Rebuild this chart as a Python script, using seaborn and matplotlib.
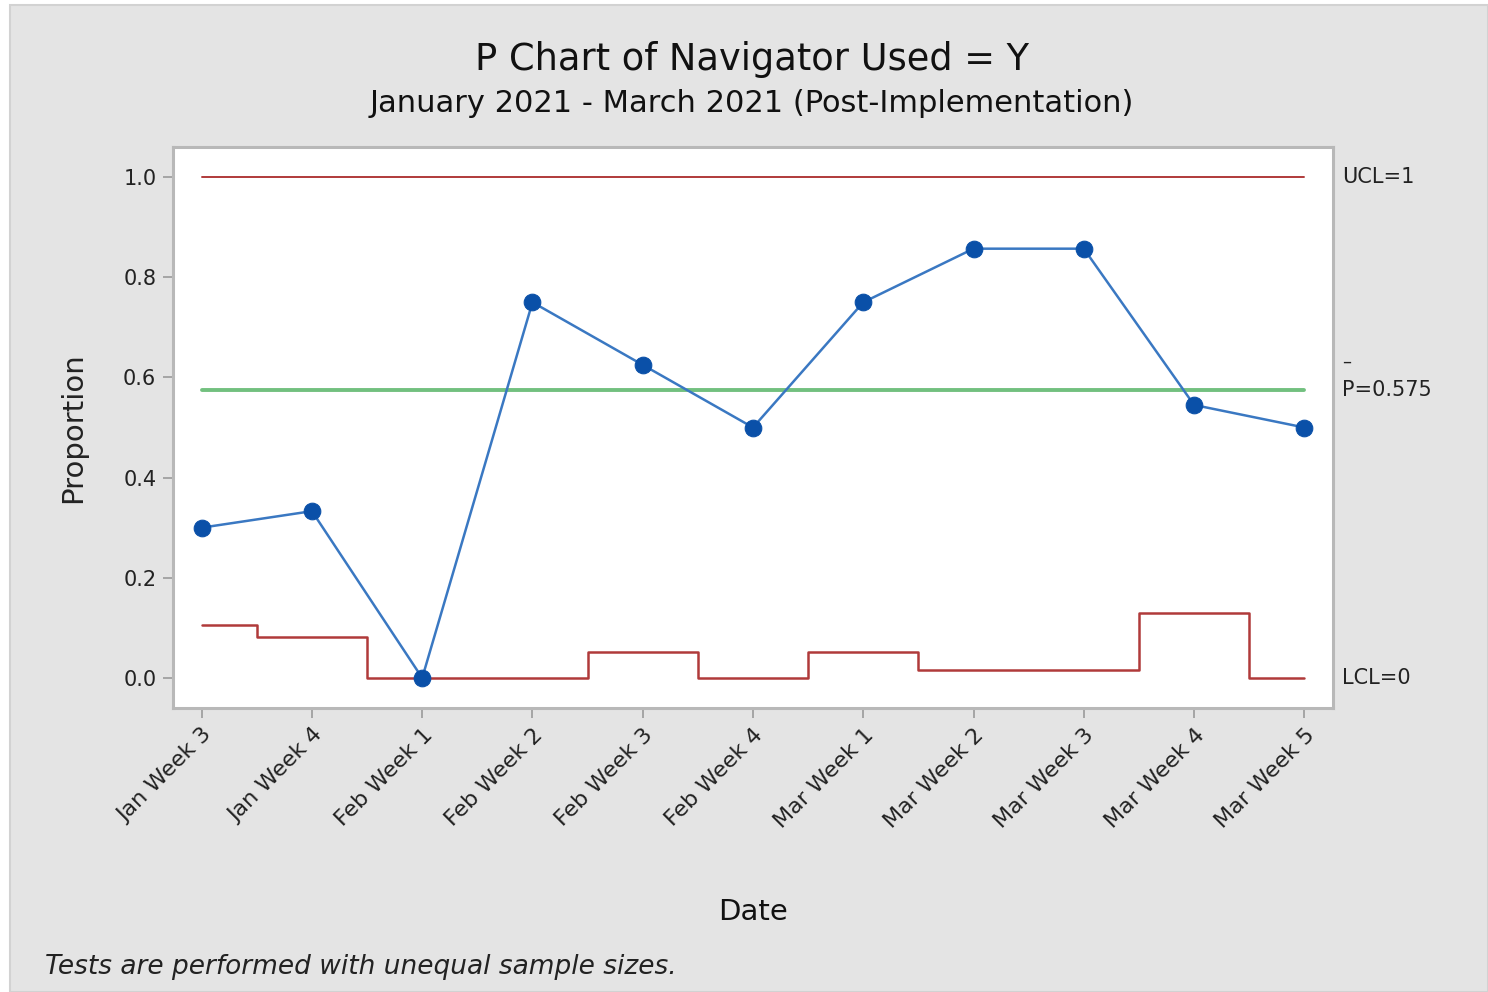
import matplotlib
matplotlib.use("Agg")
import matplotlib.pyplot as plt
import seaborn as sns
import numpy as np
import pandas as pd
from matplotlib.patches import Rectangle

# ---- data ----
weeks = ["Jan Week 3", "Jan Week 4", "Feb Week 1", "Feb Week 2", "Feb Week 3",
         "Feb Week 4", "Mar Week 1", "Mar Week 2", "Mar Week 3", "Mar Week 4", "Mar Week 5"]
proportion = [0.30, 0.333, 0.0, 0.75, 0.625, 0.50, 0.75, 0.857, 0.857, 0.545, 0.50]
lcl = [0.106, 0.082, 0.0, 0.0, 0.052, 0.0, 0.052, 0.016, 0.016, 0.13, 0.0]
ucl_value = 1.0
p_bar = 0.575
yticks = [0.0, 0.2, 0.4, 0.6, 0.8, 1.0]

sns.set_theme(style="white")
plt.rcParams['font.family'] = ['DejaVu Sans']

fig = plt.figure(figsize=(14.88, 9.92), dpi=100)
fig.patch.set_facecolor("white")
bg = Rectangle((10/1488, 0), 1 - 10/1488, 1 - 5/992,
               transform=fig.transFigure, facecolor="#e4e4e4",
               edgecolor="#d2d2d2", lw=1.5, zorder=-10)
fig.patches.append(bg)

ax = fig.add_axes([173/1488, 1 - 708/992, (1333-173)/1488, (708-147)/992])
ax.set_zorder(1)
ax.set_facecolor("white")

x = np.arange(len(weeks))
df = pd.DataFrame({"pos": x, "Proportion": proportion, "LCL": lcl})

red = "#b03a3a"
ax.plot([x[0], x[-1]], [ucl_value, ucl_value], color=red, lw=1.4, zorder=2)
ax.plot([x[0], x[-1]], [p_bar, p_bar], color="#72c07f", lw=2.8, zorder=2)
ax.plot(df["pos"], df["LCL"], drawstyle="steps-mid", color=red, lw=1.8, zorder=2)

sns.lineplot(data=df, x="pos", y="Proportion", ax=ax, color="#3a78c2", lw=1.8,
             marker="o", markersize=12, markerfacecolor="#0a50a8",
             markeredgecolor="#0a50a8", zorder=3)

ax.set_xlim(-0.26, 10.26)
ax.set_ylim(-0.06, 1.06)
ax.set_xticks(x)
ax.set_xticklabels(weeks, rotation=45, ha="right", rotation_mode="anchor",
                   fontsize=16, color="#222222")
ax.set_yticks(yticks)
ax.set_yticklabels([f"{v:.1f}" for v in yticks], fontsize=15, color="#222222")
ax.tick_params(axis="both", which="both", direction="out", length=7, width=1.2,
               color="#9a9a9a", bottom=True, left=True, pad=5)
for s in ax.spines.values():
    s.set_color("#b8b8b8")
    s.set_linewidth(2.2)

ax.set_xlabel("Date", fontsize=21, color="#111111", labelpad=48)
ax.set_ylabel("Proportion", fontsize=21, color="#222222", labelpad=26)

# right side labels
trans = ax.get_yaxis_transform()
lab_x = 1.008
ax.text(lab_x, ucl_value, "UCL=1", transform=trans, va="center", ha="left",
        fontsize=15, color="#222222")
ax.text(lab_x, p_bar, "P=0.575", transform=trans, va="center", ha="left",
        fontsize=15, color="#222222")
ax.text(lab_x, p_bar + 0.057, "–", transform=trans, va="center", ha="left",
        fontsize=13, color="#222222")
ax.text(lab_x, 0.0, "LCL=0", transform=trans, va="center", ha="left",
        fontsize=15, color="#222222")

fig.text(752/1488, 1 - 59/992, "P Chart of Navigator Used = Y", ha="center",
         va="center", fontsize=26.5, color="#111111")
fig.text(752/1488, 1 - 104/992, "January 2021 - March 2021 (Post-Implementation)",
         ha="center", va="center", fontsize=22, color="#111111")
fig.text(45/1488, 1 - 967/992, "Tests are performed with unequal sample sizes.",
         ha="left", va="center", fontsize=19, style="italic", color="#222222")

fig.savefig("out.png", dpi=100, facecolor=fig.get_facecolor())
